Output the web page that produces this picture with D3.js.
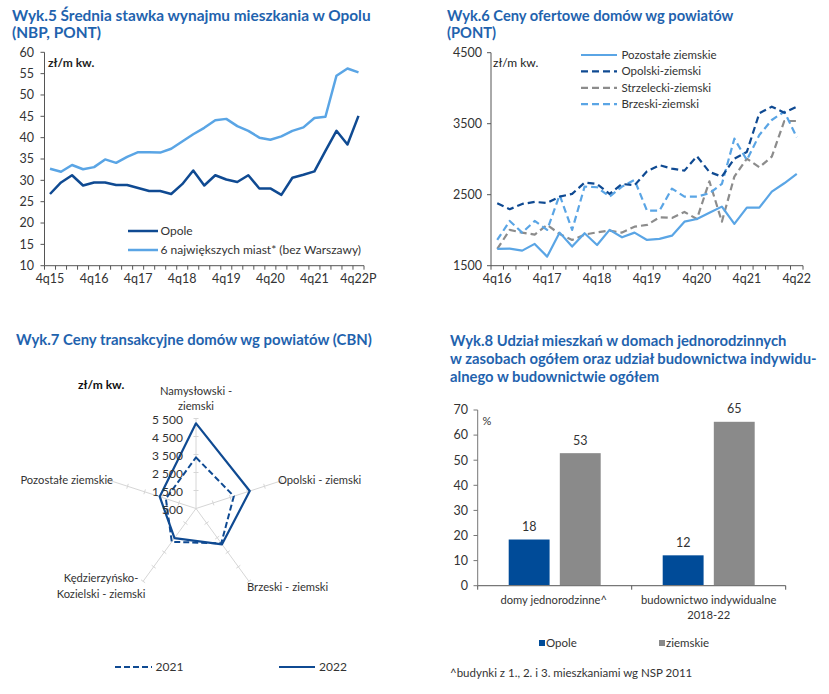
<!DOCTYPE html>
<html><head><meta charset="utf-8">
<script src="https://cdn.jsdelivr.net/npm/d3@7"></script>
<style>
body{margin:0;background:#fff;}
text{font-family:Lato,"Open Sans",sans-serif;}
</style></head>
<body><svg id="c" width="829" height="694"></svg>
<script>
// ---------- DATA ----------
const quarters5 = ["4q15","1q16","2q16","3q16","4q16","1q17","2q17","3q17","4q17","1q18","2q18","3q18","4q18","1q19","2q19","3q19","4q19","1q20","2q20","3q20","4q20","1q21","2q21","3q21","4q21","1q22","2q22","3q22","4q22P"];
const ticks5 = ["4q15","4q16","4q17","4q18","4q19","4q20","4q21","4q22P"];
const opoleRent = [26.8,29.5,31.2,28.8,29.5,29.5,28.9,28.9,28.2,27.5,27.5,26.8,29.1,32.3,28.8,31.2,30.2,29.6,31.2,28.1,28.1,26.6,30.6,31.3,32.1,36.9,41.6,38.4,45.1];
const cities6Rent = [32.7,32.0,33.6,32.6,33.1,34.9,34.1,35.5,36.6,36.6,36.5,37.4,39.1,40.8,42.3,44.1,44.4,42.7,41.6,40.0,39.5,40.3,41.6,42.4,44.6,44.9,54.5,56.2,55.3];
const yTicks5 = [10,15,20,25,30,35,40,45,50,55,60];

const quarters6 = ["4q16","1q17","2q17","3q17","4q17","1q18","2q18","3q18","4q18","1q19","2q19","3q19","4q19","1q20","2q20","3q20","4q20","1q21","2q21","3q21","4q21","1q22","2q22","3q22","4q22"];
const ticks6 = ["4q16","4q17","4q18","4q19","4q20","4q21","4q22"];
const pozostale = [1736,1740,1712,1807,1628,1966,1769,1957,1792,2004,1900,1966,1863,1877,1923,2120,2158,2247,2332,2088,2318,2318,2543,2661,2792];
const opolski = [2379,2295,2370,2398,2384,2473,2511,2670,2651,2511,2651,2633,2830,2915,2867,2839,3041,2820,2754,3008,3102,3647,3740,3655,3740];
const strzelecki = [1736,2004,1966,1938,2074,1947,1863,1938,1971,1994,1966,2050,2074,2182,2173,2257,2158,2689,2120,2754,3008,2886,3036,3538,3538];
const brzeski = [1863,2130,1966,2130,2004,2496,2004,2614,2605,2473,2614,2708,2275,2275,2586,2473,2473,2520,2651,3289,2989,3341,3552,3670,3309];
const yTicks6 = [1500,2500,3500,4500];

const radarAxes = ["Namysłowski - ziemski","Opolski - ziemski","Brzeski - ziemski","Kędzierzyńsko-Kozielski - ziemski","Pozostałe ziemskie"];
const radar2021 = [3340,2710,2890,2790,2260];
const radar2022 = [5230,3640,2960,2530,2620];
const radarTicks = [500,1500,2500,3500,4500,5500];

const barGroups = ["domy jednorodzinne^","budownictwo indywidualne 2018-22"];
const barSeries = ["Opole","ziemskie"];
const opoleShare = [18.4,12.1];
const ziemskieShare = [52.8,65.3];
const yTicks8 = [0,10,20,30,40,50,60,70];

// ---------- STYLE ----------
const C = {title:"#1f63ae", dark:"#0f4a92", light:"#5aa5e5", gray:"#8c8c8c", bar:"#004b98", barGray:"#8a8a8a", axis:"#555", txt:"#333", spoke:"#d6d6d6"};
const svg = d3.select("#c");
svg.append("rect").attr("width",829).attr("height",694).attr("fill","#fff");

function title(lines,x,y0,dy,size){
  const t = svg.append("text").attr("x",x).attr("y",y0).attr("fill",C.title)
    .attr("font-size",size).attr("font-weight",700);
  lines.forEach((l,i)=>t.append("tspan").attr("x",x).attr("y",y0+i*dy).text(l));
}
function txt(x,y,s,opt={}){
  return svg.append("text").attr("x",x).attr("y",y).attr("dy","0.35em")
    .attr("font-size",opt.size||12).attr("fill",opt.fill||C.txt)
    .attr("text-anchor",opt.anchor||"start").attr("font-weight",opt.weight||400).text(s);
}

// ---------- PANEL 1 ----------
title(["Wyk.5 Średnia stawka wynajmu mieszkania w Opolu","(NBP, PONT)"],12,21,16.5,15.4);
{
  const x = d3.scaleBand().domain(quarters5).range([44.5,364]);
  const y = d3.scaleLinear().domain([10,60]).range([265.7,52.3]);
  const g = svg.append("g");
  g.append("line").attr("x1",44.5).attr("x2",44.5).attr("y1",y(60)).attr("y2",y(10)).attr("stroke",C.axis);
  yTicks5.forEach(v=>{
    g.append("line").attr("x1",40.5).attr("x2",44.5).attr("y1",y(v)).attr("y2",y(v)).attr("stroke",C.axis);
    txt(34,y(v),v,{anchor:"end",size:12.5});
  });
  g.append("line").attr("x1",44.5).attr("x2",364).attr("y1",y(10)).attr("y2",y(10)).attr("stroke",C.axis);
  quarters5.forEach(q=>g.append("line").attr("x1",x(q)).attr("x2",x(q)).attr("y1",y(10)).attr("y2",y(10)+4).attr("stroke",C.axis));
  g.append("line").attr("x1",364).attr("x2",364).attr("y1",y(10)).attr("y2",y(10)+4).attr("stroke",C.axis);
  ticks5.forEach(q=>txt(x(q)+x.bandwidth()/2,279,q,{anchor:"middle",size:12.5}));
  const line = d3.line().x((d,i)=>x(quarters5[i])+x.bandwidth()/2).y(d=>y(d));
  g.append("path").attr("d",line(cities6Rent)).attr("fill","none").attr("stroke",C.light).attr("stroke-width",2.5).attr("stroke-linejoin","round");
  g.append("path").attr("d",line(opoleRent)).attr("fill","none").attr("stroke",C.dark).attr("stroke-width",2.5).attr("stroke-linejoin","round");
  txt(48,63,"zł/m kw.",{weight:700,size:12,fill:"#222"});
  [["Opole",C.dark,231],["6 największych miast* (bez Warszawy)",C.light,250]].forEach(([s,c,yy])=>{
    g.append("line").attr("x1",128).attr("x2",158).attr("y1",yy).attr("y2",yy).attr("stroke",c).attr("stroke-width",2.5);
    txt(160.5,yy,s,{size:12});
  });
}

// ---------- PANEL 2 ----------
title(["Wyk.6 Ceny ofertowe domów wg powiatów","(PONT)"],447,21,16.5,14.7);
{
  const x = d3.scaleBand().domain(quarters6).range([491,803]);
  const y = d3.scaleLinear().domain([1500,4500]).range([265.7,52.7]);
  const g = svg.append("g");
  g.append("line").attr("x1",491).attr("x2",491).attr("y1",y(4500)).attr("y2",y(1500)).attr("stroke",C.axis);
  yTicks6.forEach(v=>{
    g.append("line").attr("x1",487).attr("x2",491).attr("y1",y(v)).attr("y2",y(v)).attr("stroke",C.axis);
    txt(482,y(v),v,{anchor:"end",size:12.5});
  });
  g.append("line").attr("x1",491).attr("x2",803).attr("y1",y(1500)).attr("y2",y(1500)).attr("stroke",C.axis);
  quarters6.forEach(q=>g.append("line").attr("x1",x(q)).attr("x2",x(q)).attr("y1",y(1500)).attr("y2",y(1500)+4).attr("stroke",C.axis));
  g.append("line").attr("x1",803).attr("x2",803).attr("y1",y(1500)).attr("y2",y(1500)+4).attr("stroke",C.axis);
  ticks6.forEach(q=>txt(x(q)+x.bandwidth()/2,279,q,{anchor:"middle",size:12.5}));
  const line = d3.line().x((d,i)=>x(quarters6[i])+x.bandwidth()/2).y(d=>y(d));
  const series = [
    ["Pozostałe ziemskie",pozostale,C.light,null],
    ["Opolski-ziemski",opolski,C.dark,"7,4"],
    ["Strzelecki-ziemski",strzelecki,C.gray,"7,4"],
    ["Brzeski-ziemski",brzeski,C.light,"7,4"]];
  [series[2],series[0],series[3],series[1]].forEach(([n,d,c,da])=>{
    g.append("path").attr("d",line(d)).attr("fill","none").attr("stroke",c).attr("stroke-width",2.2)
      .attr("stroke-dasharray",da).attr("stroke-linejoin","round");
  });
  txt(493,63,"zł/m kw.",{size:12,fill:"#222"});
  series.forEach(([n,d,c,da],i)=>{
    const yy = 55+i*16.4;
    g.append("line").attr("x1",581).attr("x2",617).attr("y1",yy).attr("y2",yy).attr("stroke",c).attr("stroke-width",2.2).attr("stroke-dasharray",da);
    txt(621.5,yy,n,{size:11.5});
  });
}

// ---------- PANEL 3 ----------
title(["Wyk.7 Ceny transakcyjne domów wg powiatów (CBN)"],16,345,16,14.9);
{
  const cx = 196, cy = 508.5, R = 90;
  const r = d3.scaleLinear().domain([500,5500]).range([0,R]);
  const ang = d3.scalePoint().domain(radarAxes).range([0,2*Math.PI*4/5]);
  const pt = (a,v)=>[cx+r(v)*Math.sin(ang(a)), cy-r(v)*Math.cos(ang(a))];
  const g = svg.append("g");
  radarAxes.forEach(a=>{
    const [x2,y2] = pt(a,5500);
    g.append("line").attr("x1",cx).attr("y1",cy).attr("x2",x2).attr("y2",y2).attr("stroke",C.spoke).attr("stroke-width",1);
    radarTicks.slice(1).forEach(v=>{
      const [px,py] = pt(a,v);
      const t = ang(a);
      const ux = Math.cos(t)*2.5, uy = Math.sin(t)*2.5;
      g.append("line").attr("x1",px-ux).attr("y1",py-uy).attr("x2",px+ux).attr("y2",py+uy).attr("stroke",C.spoke);
    });
  });
  const rl = d3.lineRadial().angle((d,i)=>ang(radarAxes[i])).radius(d=>r(d)).curve(d3.curveLinearClosed);
  g.append("path").attr("transform",`translate(${cx},${cy})`).attr("d",rl(radar2021)).attr("fill","none")
    .attr("stroke",C.dark).attr("stroke-width",2).attr("stroke-dasharray","6,3").attr("stroke-linejoin","round");
  g.append("path").attr("transform",`translate(${cx},${cy})`).attr("d",rl(radar2022)).attr("fill","none")
    .attr("stroke",C.dark).attr("stroke-width",2.2).attr("stroke-linejoin","round");
  radarTicks.forEach(v=>txt(183,cy-r(v)+1,d3.format(",")(v).replace(","," "),{anchor:"end",size:12}));
  txt(78,385,"zł/m kw.",{weight:700,size:12,fill:"#111"});
  const ls = {size:11.2};
  txt(196,391,"Namysłowski -",{anchor:"middle",size:11.2});
  txt(196,406,"ziemski",{anchor:"middle",size:11.2});
  txt(278,480,radarAxes[1],ls);
  txt(247,587,radarAxes[2],ls);
  txt(101,578,"Kędzierzyńsko-",{anchor:"middle",size:11.2});
  txt(101,594,"Kozielski - ziemski",{anchor:"middle",size:11.2});
  txt(113,480,radarAxes[4],{anchor:"end",size:11.2});
  g.append("line").attr("x1",115).attr("x2",152).attr("y1",667).attr("y2",667).attr("stroke",C.dark).attr("stroke-width",2).attr("stroke-dasharray","6,3");
  txt(155.5,667,"2021");
  g.append("line").attr("x1",279).attr("x2",315).attr("y1",667).attr("y2",667).attr("stroke",C.dark).attr("stroke-width",2.2);
  txt(319,667,"2022");
}

// ---------- PANEL 4 ----------
title(["Wyk.8 Udział mieszkań w domach jednorodzinnych","w zasobach ogółem oraz udział budownictwa indywidu-","alnego w budownictwie ogółem"],450,346,17.8,14.8);
{
  const x0 = d3.scaleBand().domain(barGroups).range([477.7,785.7]);
  const x1 = d3.scaleBand().domain(barSeries).range([31,123]).paddingInner(0.2);
  const y = d3.scaleLinear().domain([0,70]).range([585.7,410]);
  const g = svg.append("g");
  const vals = {Opole:opoleShare, ziemskie:ziemskieShare};
  const col = {Opole:C.bar, ziemskie:C.barGray};
  barGroups.forEach((gr,i)=>{
    barSeries.forEach(s=>{
      const v = vals[s][i];
      g.append("rect").attr("x",x0(gr)+x1(s)).attr("y",y(v)).attr("width",x1.bandwidth()).attr("height",y(0)-y(v)).attr("fill",col[s]);
      txt(x0(gr)+x1(s)+x1.bandwidth()/2,y(v)-13,d3.format(".0f")(v),{anchor:"middle",size:12.5});
    });
  });
  g.append("line").attr("x1",477.7).attr("x2",477.7).attr("y1",y(70)).attr("y2",y(0)).attr("stroke","#777");
  yTicks8.forEach(v=>{
    g.append("line").attr("x1",473.5).attr("x2",477.7).attr("y1",y(v)).attr("y2",y(v)).attr("stroke","#777");
    txt(468,y(v),v,{anchor:"end",size:12.5});
  });
  g.append("line").attr("x1",477.7).attr("x2",785.7).attr("y1",y(0)).attr("y2",y(0)).attr("stroke","#777").attr("stroke-width",1.2);
  [477.7,631.7,785.7].forEach(xx=>g.append("line").attr("x1",xx).attr("x2",xx).attr("y1",y(0)).attr("y2",y(0)+4).attr("stroke","#555"));
  txt(482.5,421,"%",{size:11});
  txt(x0(barGroups[0])+x0.bandwidth()/2-1,600,"domy jednorodzinne^",{anchor:"middle",size:11.2});
  txt(x0(barGroups[1])+x0.bandwidth()/2,600,"budownictwo indywidualne",{anchor:"middle",size:11.2});
  txt(x0(barGroups[1])+x0.bandwidth()/2,615.5,"2018-22",{anchor:"middle",size:11.2});
  g.append("rect").attr("x",539).attr("y",640).attr("width",6).attr("height",6).attr("fill",C.bar);
  txt(546,643,"Opole",{size:11.5});
  g.append("rect").attr("x",659).attr("y",640).attr("width",6).attr("height",6).attr("fill",C.barGray);
  txt(666,643,"ziemskie",{size:11.5});
  txt(450,673,"^budynki z 1., 2. i 3. mieszkaniami wg NSP 2011",{size:11.5});
}
</script></body></html>
